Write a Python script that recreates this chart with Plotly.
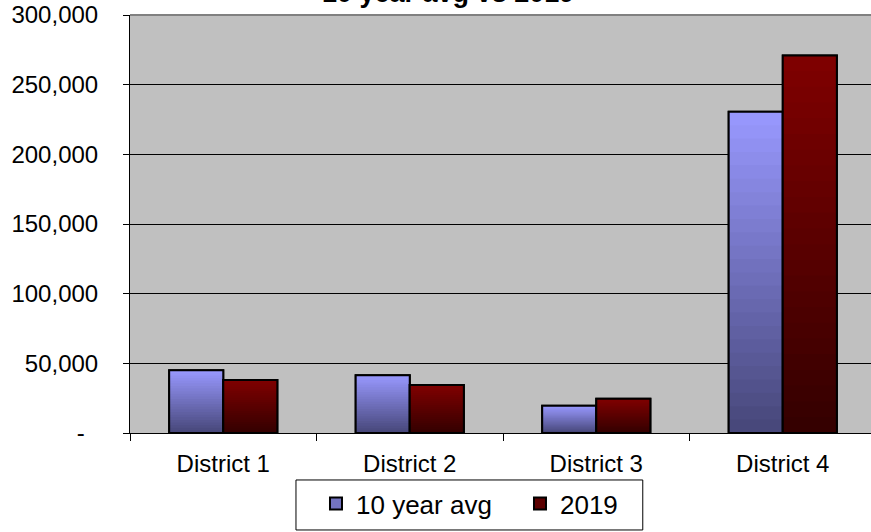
import plotly.graph_objects as go

categories = ["District 1", "District 2", "District 3", "District 4"]
avg_10yr = [45000, 41500, 19500, 230500]
year_2019 = [38000, 34500, 24500, 271000]
y_tickvals = [0, 50000, 100000, 150000, 200000, 250000, 300000]
y_ticktext = ["-\u00a0\u00a0", "50,000", "100,000", "150,000", "200,000", "250,000", "300,000"]

FONT = "Liberation Sans, Arial, sans-serif"
BAR_W = 0.29
N_LAYERS = 24


def lerp(c1, c2, t):
    return "rgb(%d,%d,%d)" % tuple(round(a + (b - a) * t) for a, b in zip(c1, c2))


series = [
    ("10 year avg", avg_10yr, -BAR_W, (0x99, 0x99, 0xFF), (0x46, 0x46, 0x78), "#7373C0"),
    ("2019", year_2019, 0.0, (0x80, 0x00, 0x00), (0x33, 0x00, 0x00), "#5C0000"),
]

fig = go.Figure()
for name, vals, off, top, bot, mid in series:
    # data trace (legend entry)
    fig.add_trace(go.Bar(x=categories, y=vals, name=name, width=BAR_W, offset=off,
                         marker=dict(color=mid, line=dict(color="black", width=2))))
    # vertical gradient shading of the same bars
    for k in range(N_LAYERS, 0, -1):
        f = k / N_LAYERS
        col = lerp(bot, top, (k - 0.5) / N_LAYERS)
        fig.add_trace(go.Bar(x=categories, y=[v * f for v in vals], width=BAR_W, offset=off,
                             marker=dict(color=col, line=dict(width=0)),
                             showlegend=False, hoverinfo="skip"))
    # outline on top
    fig.add_trace(go.Bar(x=categories, y=vals, width=BAR_W, offset=off,
                         marker=dict(color="rgba(0,0,0,0)", line=dict(color="black", width=2)),
                         showlegend=False, hoverinfo="skip"))

fig.update_layout(
    width=871, height=532,
    margin=dict(l=130, r=0, t=15, b=99),
    paper_bgcolor="white", plot_bgcolor="#C0C0C0",
    barmode="overlay",
    font=dict(family=FONT, color="black", size=24),
    showlegend=True,
    legend=dict(orientation="h", x=0.251, xanchor="left", y=-0.1124, yanchor="top",
                bgcolor="rgba(0,0,0,0)", borderwidth=0,
                font=dict(size=26, family=FONT), traceorder="normal",
                entrywidth=159, entrywidthmode="pixels"),
    xaxis=dict(range=[-0.5, 3.473], showline=True, linecolor="black", linewidth=1,
               ticks="outside", tickson="boundaries", ticklen=7, tickcolor="black",
               showgrid=False, tickfont=dict(size=24), ticklabelstandoff=9, fixedrange=True),
    yaxis=dict(range=[0, 300000], tickvals=y_tickvals, ticktext=y_ticktext,
               showline=True, linecolor="black", linewidth=1,
               ticks="outside", ticklen=6, tickcolor="black",
               showgrid=True, gridcolor="black", gridwidth=1,
               tickfont=dict(size=24), ticklabelstandoff=20, zeroline=False),
    shapes=[dict(type="line", xref="paper", yref="paper", x0=0, x1=1, y0=1, y1=1,
                 line=dict(color="#808080", width=2)),
            # legend frame
            dict(type="rect", xref="paper", yref="paper", x0=0.224, x1=0.692,
                 y0=-0.232, y1=-0.1124, line=dict(color="black", width=1),
                 fillcolor="white", layer="below")],
    annotations=[dict(text="<b>10 year avg vs 2019</b>", xref="paper", yref="paper",
                      x=0.4298, y=1.053, xanchor="center", yanchor="middle",
                      showarrow=False, font=dict(size=27, family=FONT, color="black"))],
)

post = ("document.documentElement.style.margin='0';document.body.style.margin='0';"
        "document.body.style.padding='0';document.body.style.overflow='hidden';"
        "var gd=document.getElementById('{plot_id}');"
        "Plotly.relayout(gd,{width:871,height:532});")
fig.write_html("out.html", post_script=post, config={"displayModeBar": False})
